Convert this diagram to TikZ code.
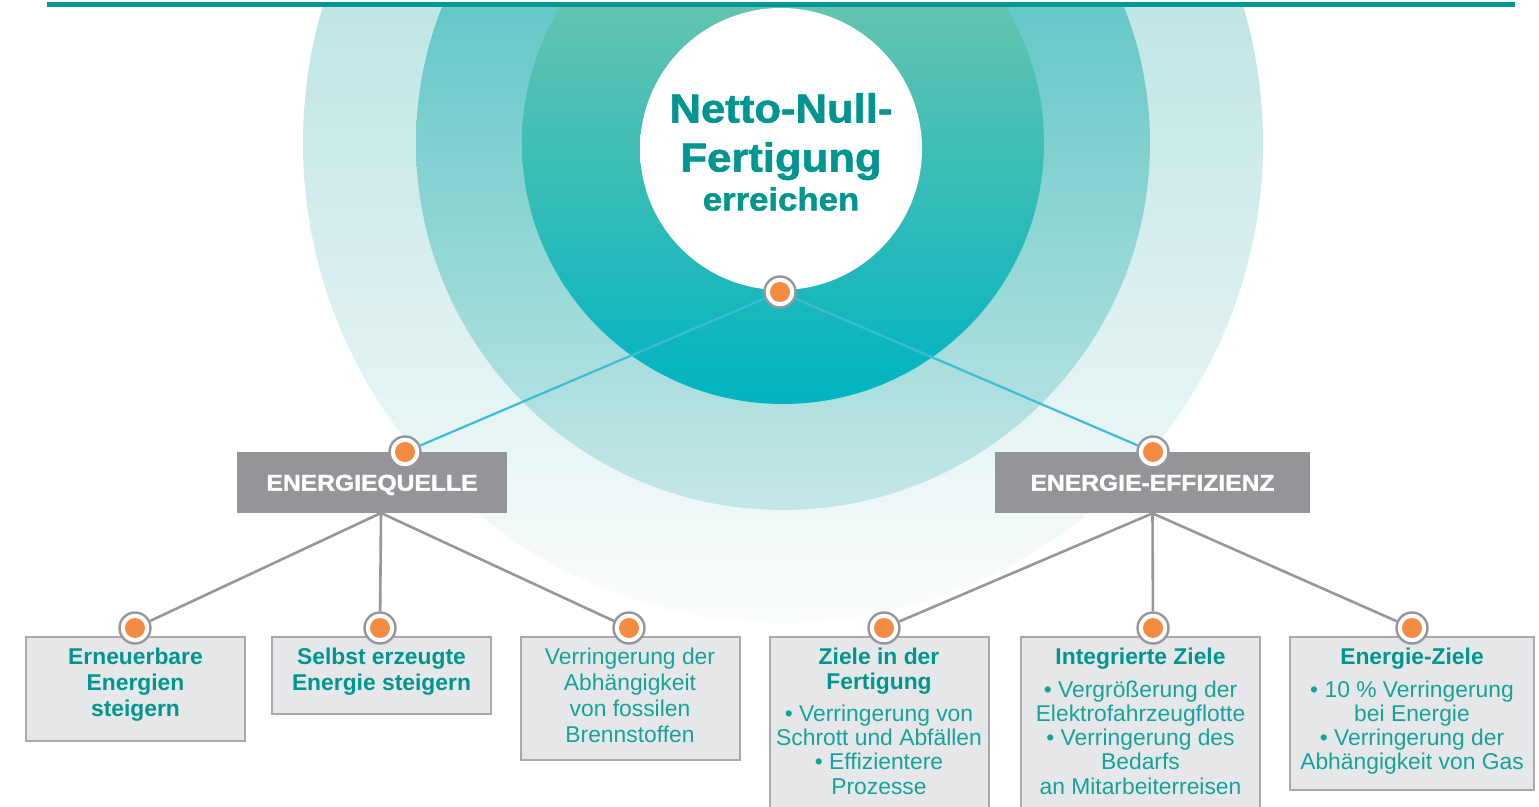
\documentclass[tikz,border=0pt]{standalone}
\usepackage{fontspec}
\setmainfont{Liberation Sans}
\newfontfamily\widefont[FakeStretch=1.08, BoldFeatures={FakeBold=1.6}]{Liberation Sans}
\usetikzlibrary{calc}

\newlength\pxu
\setlength\pxu{0.02cm}

\definecolor{rulecol}{RGB}{0,152,146}
\definecolor{tealtxt}{RGB}{0,150,143}
\definecolor{tealbody}{RGB}{22,162,154}
\definecolor{hubgray}{RGB}{147,149,152}
\definecolor{leafgray}{RGB}{230,231,232}
\definecolor{leafedge}{RGB}{167,169,172}
\definecolor{dotorange}{RGB}{243,139,65}
\definecolor{knobedge}{RGB}{150,151,154}
\definecolor{linkblue}{RGB}{60,189,214}
\definecolor{linkgray}{RGB}{150,151,154}
\definecolor{outertop}{RGB}{159,216,216}
\definecolor{outerbot}{RGB}{250,252,252}
\definecolor{midtop}{RGB}{58,185,186}
\definecolor{midbot}{RGB}{196,231,230}
\definecolor{coretop}{RGB}{130,200,170}
\definecolor{coremid}{RGB}{30,188,195}
\definecolor{corebot}{RGB}{0,180,193}
\definecolor{ballrim}{RGB}{230,230,230}

\pgfdeclareradialshading{ballshade}{\pgfpoint{0bp}{0bp}}{color(0bp)=(white); color(28bp)=(white); color(50bp)=(ballrim)}

\newcommand\leafhead[1]{\textcolor{tealtxt}{\bfseries #1}}

\tikzset{
  hub/.style={fill=hubgray, text=white, font=\widefont\bfseries\fontsize{13}{15}\selectfont, minimum height=61*\pxu, inner sep=0,
    text height=9.3pt, text depth=0pt},
  leaf/.style={draw=leafedge, line width=2*\pxu, fill=leafgray, anchor=north, minimum width=219*\pxu, inner sep=0},
  leaftext/.style={text=tealbody, anchor=north, align=center, inner sep=0},
  knob/.style={circle, draw=knobedge, line width=2.4*\pxu, fill=white, minimum size=31*\pxu, inner sep=0,
    path picture={\fill[dotorange] (path picture bounding box.center) circle[radius=10*\pxu];}},
  bluelink/.style={draw=linkblue, line width=2.2*\pxu},
  graylink/.style={draw=linkgray, line width=2.6*\pxu}
}

\begin{document}
\begin{tikzpicture}[x=0.02cm, y=-0.02cm]
  \useasboundingbox (0,0) rectangle (1539,807);
  % rings behind the goal
  \begin{scope}
    \clip (0,5) rectangle (1539,807);
    \shade[top color=outertop, bottom color=outerbot] (783,143) circle[radius=480];
    \shade[top color=midtop, bottom color=midbot] (783,143) circle[radius=367];
    \shade[top color=coretop, middle color=coremid, bottom color=corebot] (783,143) circle[radius=261];
    \shade[shading=ballshade] (781,149) circle[radius=141];
  \end{scope}
  \draw[rulecol, line width=5*\pxu] (47,5) -- (1515,5); % top rule

  \node[font=\widefont\bfseries\fontsize{23}{27.9}\selectfont, text=tealtxt, align=center, inner sep=0] (goal) at (781,152)
    {Netto-Null-\\Fertigung\\[-5.7pt]{\fontsize{18.3}{22}\selectfont erreichen}};

  % two branches
  \node[hub, minimum width=270*\pxu] (quelle) at (372,482.5) {ENERGIEQUELLE};
  \node[hub, minimum width=315*\pxu] (effizienz) at (1152.5,482.5) {ENERGIE-EFFIZIENZ};

  % leaves
  \node[leaf, minimum height=104*\pxu] (ern) at (135.5,636) {};
  \node[leaf, minimum height=77*\pxu] (sel) at (381.5,636) {};
  \node[leaf, minimum height=123*\pxu] (fos) at (630,636) {};
  \node[leaf, minimum height=200*\pxu] (fer) at (879,636) {};
  \node[leaf, minimum width=239*\pxu, minimum height=200*\pxu] (int) at (1140.5,636) {};
  \node[leaf, minimum width=244*\pxu, minimum height=153*\pxu] (ziel) at (1412,636) {};

  \node[leaftext, text=tealtxt, font=\bfseries\fontsize{13}{14.8}\selectfont] (ernT) at ($(ern.north)+(0,12)$) {Erneuerbare\\Energien\\steigern};
  \node[leaftext, text=tealtxt, font=\bfseries\fontsize{13}{14.8}\selectfont] (selT) at ($(sel.north)+(0,12)$) {Selbst erzeugte\\Energie steigern};
  \node[leaftext, font=\fontsize{13}{14.8}\selectfont] (fosT) at ($(fos.north)+(0,12)$) {Verringerung der\\Abhängigkeit\\von fossilen\\Brennstoffen};
  \node[leaftext, font=\fontsize{13}{13.8}\selectfont] (ferT) at ($(fer.north)+(0,12)$)
    {\leafhead{Ziele in der}\\\leafhead{Fertigung}\\[4.5pt]• Verringerung von\\Schrott und Abfällen\\• Effizientere\\Prozesse};
  \node[leaftext, font=\fontsize{13}{13.8}\selectfont] (intT) at ($(int.north)+(0,12)$)
    {\leafhead{Integrierte Ziele}\\[4.5pt]• Vergrößerung der\\Elektrofahrzeugflotte\\• Verringerung des\\Bedarfs\\an Mitarbeiterreisen};
  \node[leaftext, font=\fontsize{13}{13.8}\selectfont] (zielT) at ($(ziel.north)+(0,12)$)
    {\leafhead{Energie-Ziele}\\[4.5pt]• 10 \% Verringerung\\bei Energie\\• Verringerung der\\Abhängigkeit von Gas};

  % knobs
  \node[knob] (top) at (780,292) {};
  \node[knob] (kq) at (405,452) {};
  \node[knob] (ke) at (1153,452) {};
  \node[knob] (kern) at (135,628) {};
  \node[knob] (ksel) at (380,628) {};
  \node[knob] (kfos) at (629,628) {};
  \node[knob] (kfer) at (884,628) {};
  \node[knob] (kint) at (1153,628) {};
  \node[knob] (kziel) at (1412,628) {};

  % connectors
  \draw[bluelink] (top) -- (kq);
  \draw[bluelink] (top) -- (ke);
  \coordinate (qroot) at (381,513);
  \foreach \k in {kern,ksel,kfos}
    \draw[graylink] (qroot) -- (\k);
  \foreach \k in {kfer,kint,kziel}
    \draw[graylink] (effizienz.south) -- (\k);
\end{tikzpicture}
\end{document}
